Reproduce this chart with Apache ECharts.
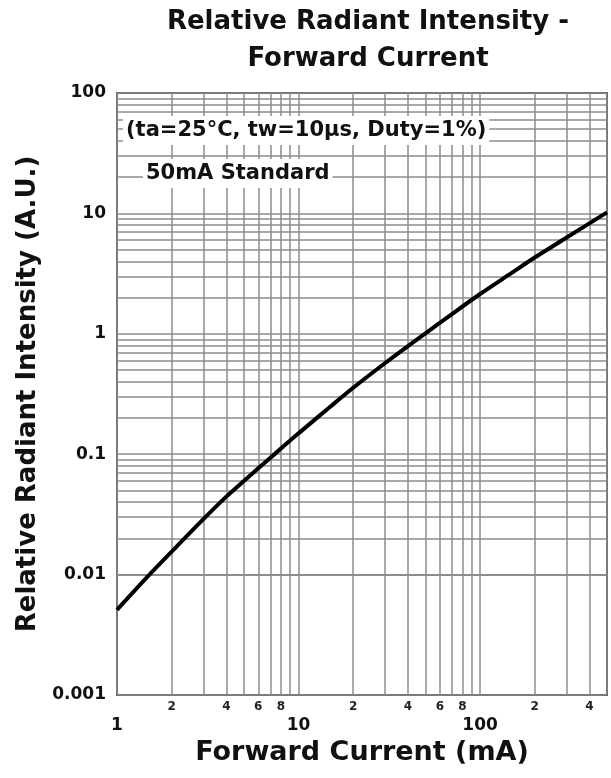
<!DOCTYPE html>
<html>
<head>
<meta charset="utf-8">
<script src="https://cdn.jsdelivr.net/npm/echarts@6/dist/echarts.min.js"></script>
<style>
html,body{margin:0;padding:0;background:#fff;}
#chart{width:611px;height:778px;}
</style>
</head>
<body>
<div id="chart"></div>
<script>
// Forward current (mA)
var currentMA = [1, 1.5, 2, 3, 4, 5, 7, 10, 15, 20, 30, 50, 70, 100, 150, 200, 300, 500];
// Relative radiant intensity (A.U.)
var intensity = [0.0051, 0.0099, 0.0155, 0.029, 0.0444, 0.060, 0.0935, 0.149, 0.249, 0.356, 0.572, 1.01, 1.46, 2.14, 3.22, 4.3, 6.3, 10.2];

var xMinorGrid = [2, 3, 4, 5, 6, 7, 8, 9, 20, 30, 40, 50, 60, 70, 80, 90, 200, 300, 400];
var xMinorLabels = [2, 4, 6, 8, 20, 40, 60, 80, 200, 400];
var xMinorLabelText = ['2', '4', '6', '8', '2', '4', '6', '8', '2', '4'];
var xMajorLabels = ['1', '10', '100'];
var yDecades = [0.001, 0.01, 0.1, 1, 10];
var yMinorMult = [2, 3, 4, 5, 6, 7, 8, 9];
var yTickLabels = ['0.001', '0.01', '0.1', '1', '10', '100'];

var titleText = 'Relative Radiant Intensity -\nForward Current';
var xName = 'Forward Current (mA)';
var yName = 'Relative Radiant Intensity (A.U.)';
var note1 = '(ta=25°C, tw=10µs, Duty=1%)';
var note2 = '50mA Standard';

var FONT = 'DejaVu Sans';
var gridColor = '#8c8c8c';

var seriesData = currentMA.map(function (x, i) { return [x, intensity[i]]; });

var markData = [];
xMinorGrid.forEach(function (v) {
  var li = xMinorLabels.indexOf(v);
  markData.push({
    xAxis: v,
    label: li >= 0 ? {
      show: true, position: 'start', distance: 6,
      formatter: xMinorLabelText[li],
      fontFamily: FONT, fontWeight: 'bold', fontSize: 12, color: '#222'
    } : { show: false }
  });
});
yDecades.forEach(function (d) {
  yMinorMult.forEach(function (m) {
    markData.push({ yAxis: +(d * m).toPrecision(3), label: { show: false } });
  });
});

var chart = echarts.init(document.getElementById('chart'), null, { renderer: 'canvas' });
chart.setOption({
  backgroundColor: '#ffffff',
  animation: false,
  title: [
    {
      text: titleText, left: 363, top: -1, textAlign: 'center',
      textStyle: { fontFamily: FONT, fontWeight: 'bold', fontSize: 26, lineHeight: 37, color: '#111' }
    },
    {
      text: note1, left: 123, top: 116, padding: [4, 3, 4, 3], backgroundColor: '#fff',
      textStyle: { fontFamily: FONT, fontWeight: 'bold', fontSize: 21, color: '#111' }
    },
    {
      text: note2, left: 143, top: 159, padding: [4, 3, 4, 3], backgroundColor: '#fff',
      textStyle: { fontFamily: FONT, fontWeight: 'bold', fontSize: 21, color: '#111' }
    }
  ],
  grid: {
    left: 117, right: 4, top: 93, bottom: 83,
    show: true, borderColor: '#444', borderWidth: 2, backgroundColor: 'transparent'
  },
  xAxis: {
    type: 'log', logBase: 10, min: 1, max: 500,
    name: xName, nameLocation: 'middle', nameGap: 44,
    nameTextStyle: { fontFamily: FONT, fontWeight: 'bold', fontSize: 27, color: '#111' },
    axisLine: { show: false },
    axisTick: { show: false },
    axisLabel: {
      margin: 22, fontFamily: FONT, fontWeight: 'bold', fontSize: 17, color: '#111',
      showMaxLabel: false,
      formatter: function (v) {
        var k = Math.round(Math.log10(v));
        if (Math.abs(Math.log10(v) - k) > 1e-6) return '';
        return xMajorLabels[k] || '';
      }
    },
    splitLine: { show: true, lineStyle: { color: gridColor, width: 1.5 } }
  },
  yAxis: {
    type: 'log', logBase: 10, min: 0.001, max: 100,
    name: yName, nameLocation: 'middle', nameGap: 71, nameRotate: 90,
    nameTextStyle: { fontFamily: FONT, fontWeight: 'bold', fontSize: 26, color: '#111' },
    axisLine: { show: false },
    axisTick: { show: false },
    axisLabel: {
      margin: 11, fontFamily: FONT, fontWeight: 'bold', fontSize: 17, color: '#111',
      formatter: function (v) {
        var k = Math.round(Math.log10(v)) + 3;
        return yTickLabels[k] || '';
      }
    },
    splitLine: { show: true, lineStyle: { color: gridColor, width: 1.5 } }
  },
  series: [{
    type: 'line',
    data: seriesData,
    smooth: 0.3,
    showSymbol: false,
    symbol: 'none',
    z: 5,
    lineStyle: { color: '#000', width: 4 },
    markLine: {
      silent: true,
      symbol: ['none', 'none'],
      animation: false,
      lineStyle: { color: gridColor, width: 1.5, type: 'solid' },
      emphasis: { disabled: true },
      data: markData,
      z: 1
    }
  }]
});
</script>
</body>
</html>
